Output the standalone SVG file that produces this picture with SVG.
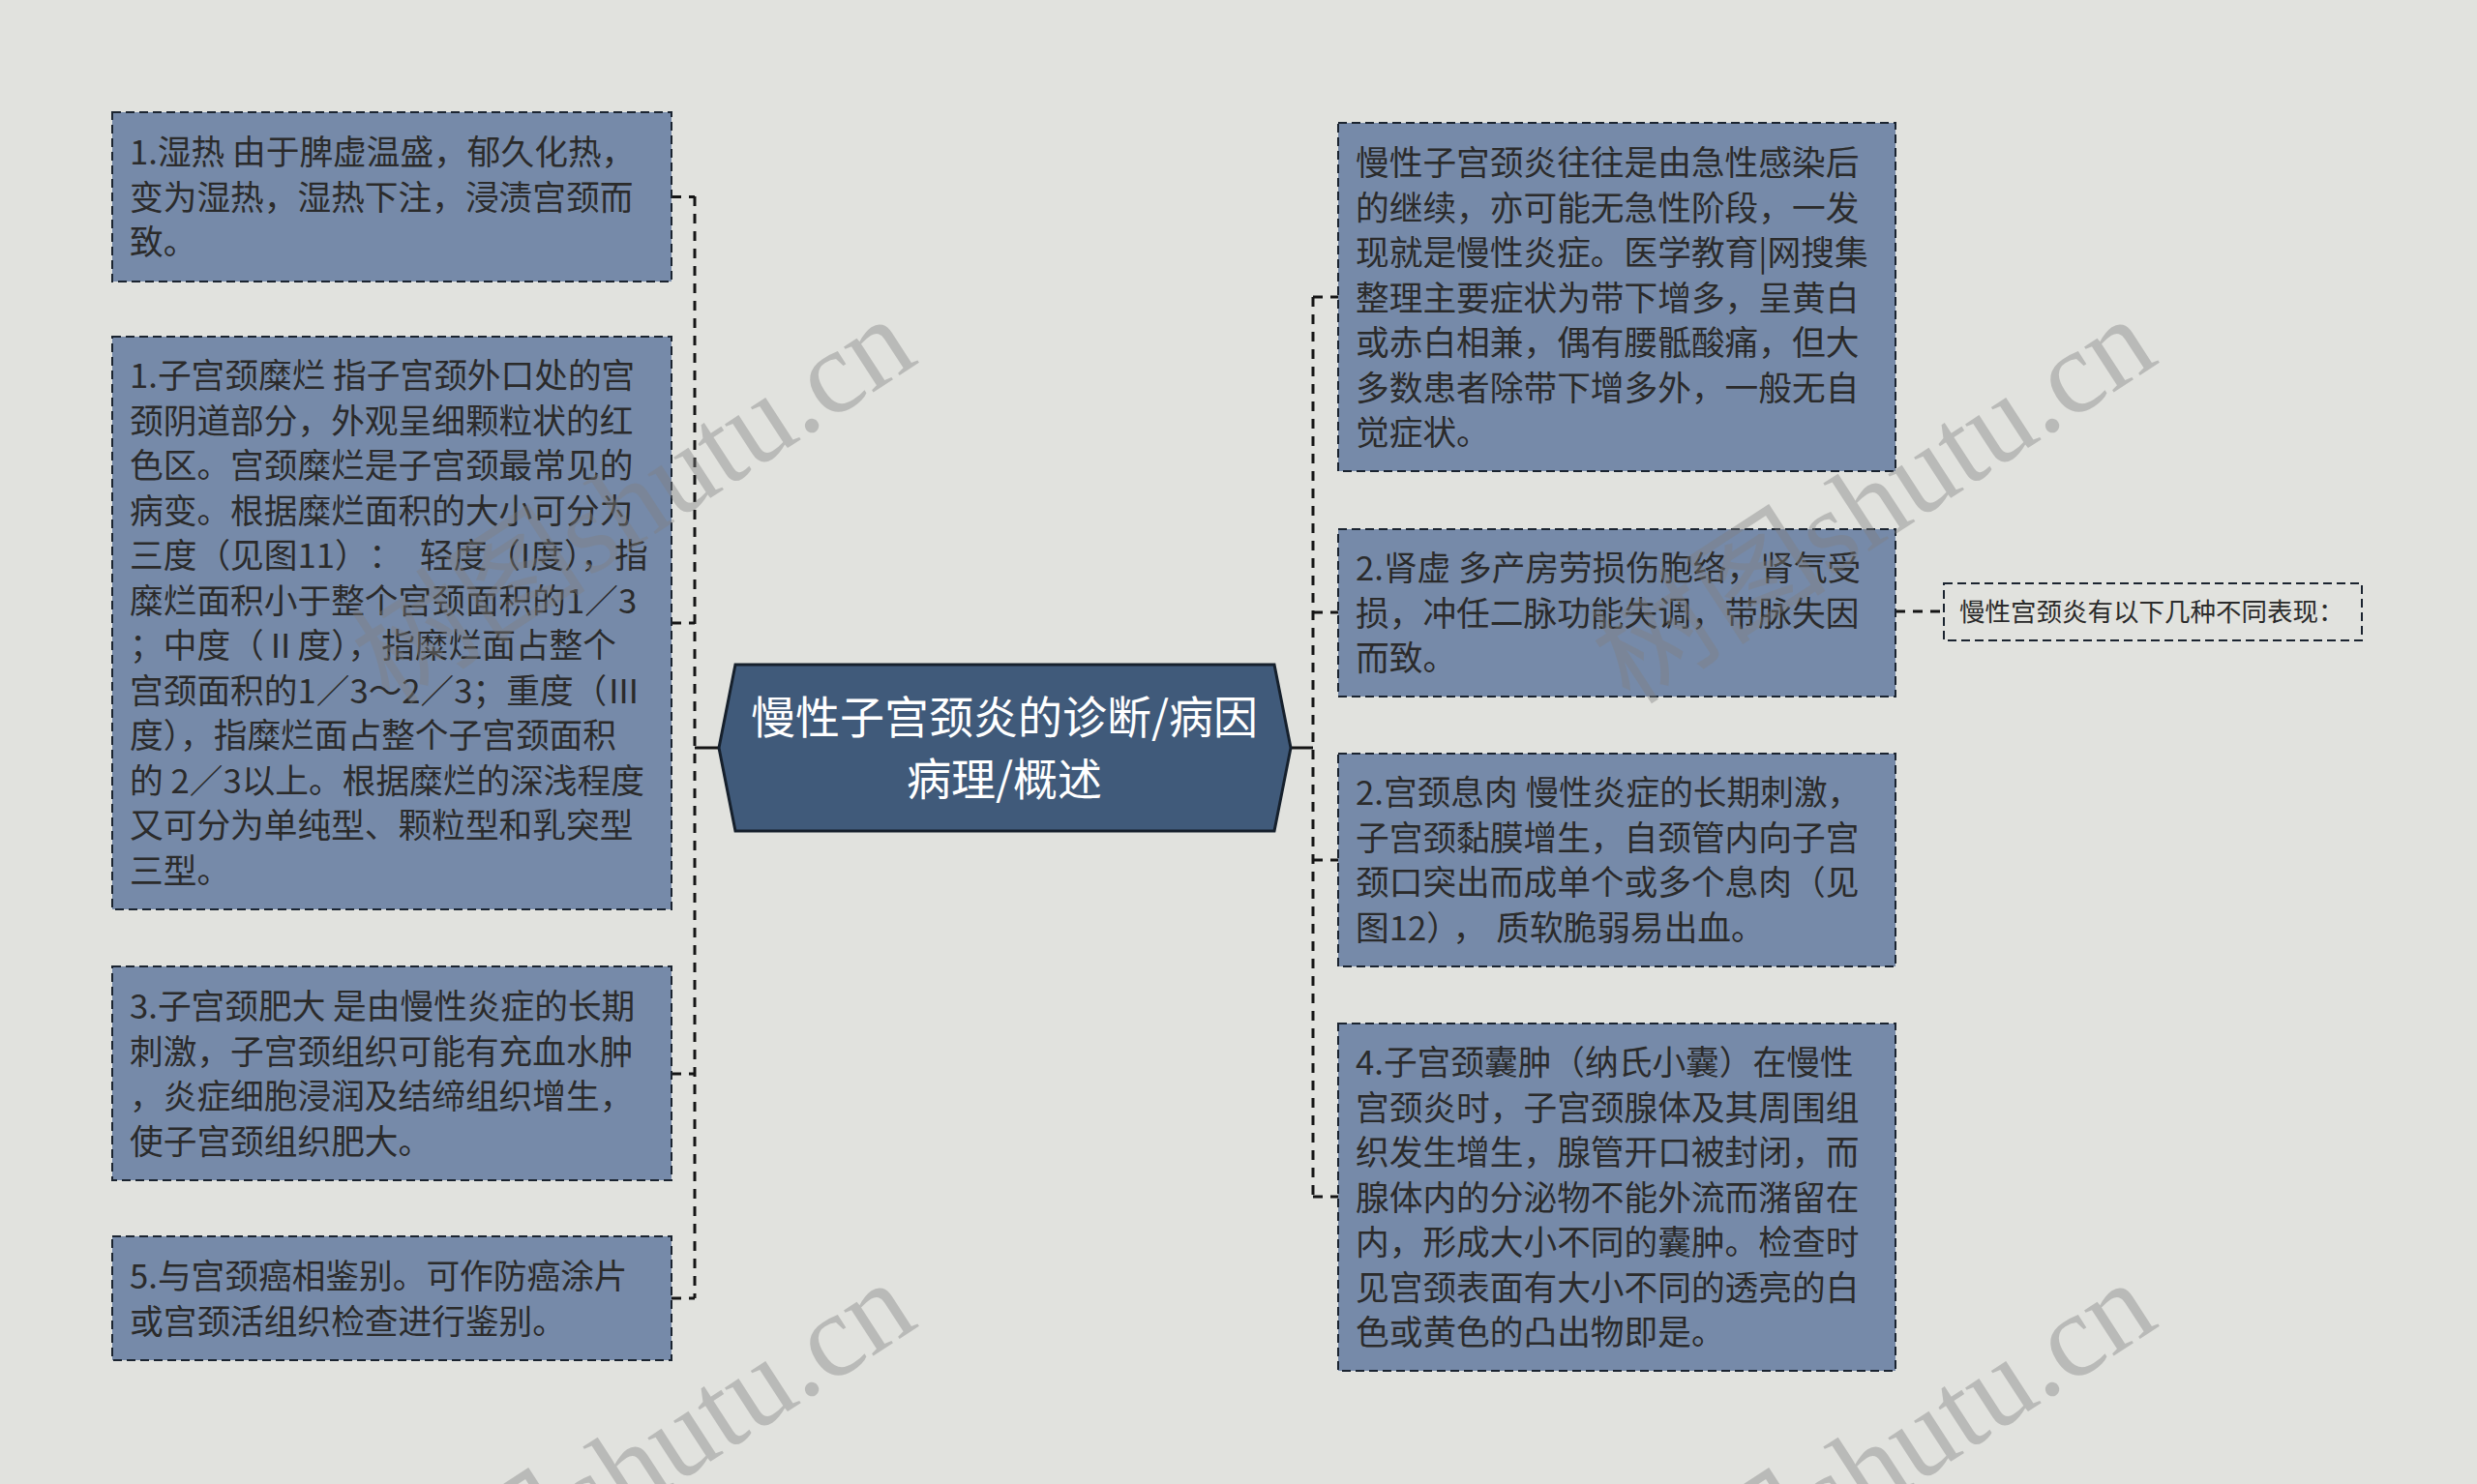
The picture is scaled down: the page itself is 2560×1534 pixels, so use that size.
<svg xmlns="http://www.w3.org/2000/svg" width="2560" height="1534" viewBox="0 0 2560 1534">
<style>
.box{fill:#768aa9;stroke:#1b2430;stroke-width:2;stroke-dasharray:9 5}
.t{font-family:"Noto Sans CJK SC","Noto Sans",sans-serif;font-size:34.7px;fill:#2b2b2b}
.c{font-family:"Noto Sans CJK SC","Noto Sans",sans-serif;font-size:46px;fill:#ffffff;text-anchor:middle}
.s{font-family:"Noto Sans CJK SC","Noto Sans",sans-serif;font-size:26.5px;fill:#2b2b2b}
.dl{fill:none;stroke:#151515;stroke-width:3;stroke-dasharray:10 8}
.sl{fill:none;stroke:#151515;stroke-width:3}
.wm{font-family:"Liberation Serif","Noto Sans CJK SC",serif;font-size:122px;fill:#808080;opacity:0.4}
</style>
<rect x="0" y="0" width="2560" height="1534" fill="#e1e2de"/>
<g id="connectors">
<path class="sl" d="M743 773 H718"/>
<path class="dl" d="M718 203 V1342"/>
<path class="dl" d="M694 203.5 H718"/>
<path class="dl" d="M694 644 H718"/>
<path class="dl" d="M694 1110 H718"/>
<path class="dl" d="M694 1342 H718"/>
<path class="sl" d="M1334 773 H1357"/>
<path class="dl" d="M1357 307 V1237"/>
<path class="dl" d="M1357 307 H1383"/>
<path class="dl" d="M1357 633 H1383"/>
<path class="dl" d="M1357 889 H1383"/>
<path class="dl" d="M1357 1237 H1383"/>
<path class="dl" d="M1959 632 H2009"/>
</g>
<g id="center">
<polygon points="743,773 760,687 1317,687 1334,773 1317,859 760,859" fill="#405a7a" stroke="#16202c" stroke-width="3"/>
<text class="c" x="1038" y="758">慢性子宫颈炎的诊断/病因</text>
<text class="c" x="1038" y="822">病理/概述</text>
</g>
<g id="n-l1">
<rect class="box" x="116" y="116" width="578" height="175"/>
<text class="t" x="134"><tspan x="134" y="170">1.湿热 由于脾虚温盛，郁久化热，</tspan><tspan x="134" y="216.5">变为湿热，湿热下注，浸渍宫颈而</tspan><tspan x="134" y="263">致。</tspan></text>
</g>
<g id="n-l2">
<rect class="box" x="116" y="348" width="578" height="592"/>
<text class="t"><tspan x="134" y="401">1.子宫颈糜烂 指子宫颈外口处的宫</tspan><tspan x="134" y="447.5">颈阴道部分，外观呈细颗粒状的红</tspan><tspan x="134" y="494">色区。宫颈糜烂是子宫颈最常见的</tspan><tspan x="134" y="540.5">病变。根据糜烂面积的大小可分为</tspan><tspan x="134" y="587">三度（见图11）</tspan><tspan dx="18">：</tspan><tspan dx="18">轻度（I度），指</tspan><tspan x="134" y="633.5">糜烂面积小于整个宫颈面积的1／3</tspan><tspan x="134" y="680">；中度（Ⅱ度），指糜烂面占整个</tspan><tspan x="134" y="726.5">宫颈面积的1／3～2／3；重度（Ⅲ</tspan><tspan x="134" y="773">度），指糜烂面占整个子宫颈面积</tspan><tspan x="134" y="819.5">的 2／3以上。根据糜烂的深浅程度</tspan><tspan x="134" y="866">又可分为单纯型、颗粒型和乳突型</tspan><tspan x="134" y="912.5">三型。</tspan></text>
</g>
<g id="n-l3">
<rect class="box" x="116" y="999" width="578" height="221"/>
<text class="t"><tspan x="134" y="1053">3.子宫颈肥大 是由慢性炎症的长期</tspan><tspan x="134" y="1099.5">刺激，子宫颈组织可能有充血水肿</tspan><tspan x="134" y="1146">，炎症细胞浸润及结缔组织增生，</tspan><tspan x="134" y="1192.5">使子宫颈组织肥大。</tspan></text>
</g>
<g id="n-l4">
<rect class="box" x="116" y="1278" width="578" height="128"/>
<text class="t"><tspan x="134" y="1332">5.与宫颈癌相鉴别。可作防癌涂片</tspan><tspan x="134" y="1378.5">或宫颈活组织检查进行鉴别。</tspan></text>
</g>
<g id="n-r1">
<rect class="box" x="1383" y="127" width="576" height="360"/>
<text class="t"><tspan x="1401" y="181">慢性子宫颈炎往往是由急性感染后</tspan><tspan x="1401" y="227.5">的继续，亦可能无急性阶段，一发</tspan><tspan x="1401" y="274">现就是慢性炎症。医学教育|网搜集</tspan><tspan x="1401" y="320.5">整理主要症状为带下增多，呈黄白</tspan><tspan x="1401" y="367">或赤白相兼，偶有腰骶酸痛，但大</tspan><tspan x="1401" y="413.5">多数患者除带下增多外，一般无自</tspan><tspan x="1401" y="460">觉症状。</tspan></text>
</g>
<g id="n-r2">
<rect class="box" x="1383" y="547" width="576" height="173"/>
<text class="t"><tspan x="1401" y="600">2.肾虚 多产房劳损伤胞络，肾气受</tspan><tspan x="1401" y="646.5">损，冲任二脉功能失调，带脉失因</tspan><tspan x="1401" y="693">而致。</tspan></text>
</g>
<g id="n-r3">
<rect class="box" x="1383" y="779" width="576" height="220"/>
<text class="t"><tspan x="1401" y="832">2.宫颈息肉 慢性炎症的长期刺激，</tspan><tspan x="1401" y="878.5">子宫颈黏膜增生，自颈管内向子宫</tspan><tspan x="1401" y="925">颈口突出而成单个或多个息肉（见</tspan><tspan x="1401" y="971.5">图12）</tspan><tspan dx="10">，</tspan><tspan dx="10">质软脆弱易出血。</tspan></text>
</g>
<g id="n-r4">
<rect class="box" x="1383" y="1058" width="576" height="359"/>
<text class="t"><tspan x="1401" y="1111">4.子宫颈囊肿（纳氏小囊）在慢性</tspan><tspan x="1401" y="1157.5">宫颈炎时，子宫颈腺体及其周围组</tspan><tspan x="1401" y="1204">织发生增生，腺管开口被封闭，而</tspan><tspan x="1401" y="1250.5">腺体内的分泌物不能外流而潴留在</tspan><tspan x="1401" y="1297">内，形成大小不同的囊肿。检查时</tspan><tspan x="1401" y="1343.5">见宫颈表面有大小不同的透亮的白</tspan><tspan x="1401" y="1390">色或黄色的凸出物即是。</tspan></text>
</g>
<g id="n-s1">
<rect x="2009" y="603" width="432" height="59" fill="none" stroke="#1b2430" stroke-width="2" stroke-dasharray="9 5"/>
<text class="s" x="2025" y="642">慢性宫颈炎有以下几种不同表现：</text>
</g>
<g id="watermarks">
<text class="wm" x="403" y="730" transform="rotate(-33 403 730)">树图shutu.cn</text>
<text class="wm" x="1685" y="730" transform="rotate(-33 1685 730)">树图shutu.cn</text>
<text class="wm" x="403" y="1726" transform="rotate(-33 403 1726)">树图shutu.cn</text>
<text class="wm" x="1685" y="1726" transform="rotate(-33 1685 1726)">树图shutu.cn</text>
</g>
</svg>
